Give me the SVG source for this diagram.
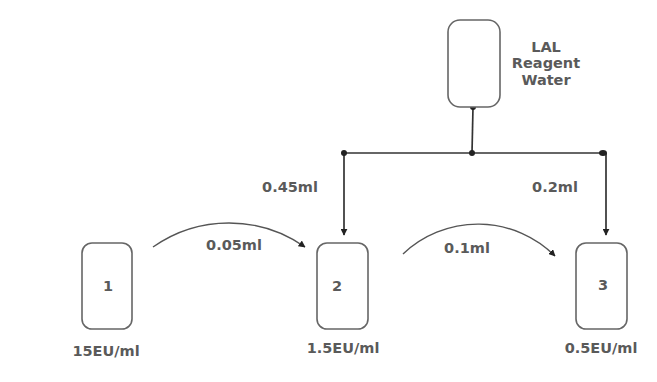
<svg xmlns="http://www.w3.org/2000/svg" width="657" height="382" viewBox="0 0 657 382">
<defs>
<style>
.box{fill:#fff;stroke:#666;stroke-width:1.6}
.ln{fill:none;stroke:#333;stroke-width:1.7}
.arc{fill:none;stroke:#555;stroke-width:1.4}
.t{font-family:"DejaVu Sans","Liberation Sans",sans-serif;font-weight:bold;font-size:14.5px;fill:#5a5a5a;text-anchor:middle}
.dot{fill:#222}
</style>
<marker id="ah" viewBox="0 0 10 10" refX="9" refY="5" markerWidth="7" markerHeight="7" orient="auto" markerUnits="userSpaceOnUse">
<path d="M0,0 L10,5 L0,10 z" fill="#222"/>
</marker>
</defs>
<rect width="657" height="382" fill="#fff"/>
<g id="connectors">
<line class="ln" x1="473" y1="107" x2="472" y2="153"/>
<line class="ln" x1="344" y1="153" x2="605" y2="153"/>
<line class="ln" x1="344" y1="153" x2="344" y2="235" marker-end="url(#ah)"/>
<line class="ln" x1="606" y1="153" x2="606" y2="235" marker-end="url(#ah)"/>
<circle class="dot" cx="473" cy="107" r="3"/>
<circle class="dot" cx="472" cy="153" r="3"/>
<circle class="dot" cx="344" cy="153" r="3"/>
<ellipse class="dot" cx="603" cy="153" rx="4" ry="3"/>
<path class="arc" d="M153,247 A132,132 0 0 1 305,247" marker-end="url(#ah)"/>
<path class="arc" d="M403,254 A109,109 0 0 1 555,256" marker-end="url(#ah)"/>
<text class="t" x="290" y="192">0.45ml</text>
<text class="t" x="555" y="192">0.2ml</text>
<text class="t" x="234" y="250">0.05ml</text>
<text class="t" x="467" y="253">0.1ml</text>
</g>
<g id="lal">
<rect class="box" x="448" y="20" width="52" height="87" rx="12"/>
<text class="t" x="546" y="52">LAL</text>
<text class="t" x="546" y="68">Reagent</text>
<text class="t" x="546" y="85">Water</text>
</g>
<g id="tube1">
<rect class="box" x="82" y="243" width="50" height="86" rx="10"/>
<text class="t" x="108" y="291">1</text>
<text class="t" x="106" y="356">15EU/ml</text>
</g>
<g id="tube2">
<rect class="box" x="317" y="243" width="51" height="86" rx="10"/>
<text class="t" x="337" y="291">2</text>
<text class="t" x="343" y="353">1.5EU/ml</text>
</g>
<g id="tube3">
<rect class="box" x="576" y="243" width="51" height="86" rx="10"/>
<text class="t" x="603" y="290">3</text>
<text class="t" x="601" y="353">0.5EU/ml</text>
</g>
</svg>
